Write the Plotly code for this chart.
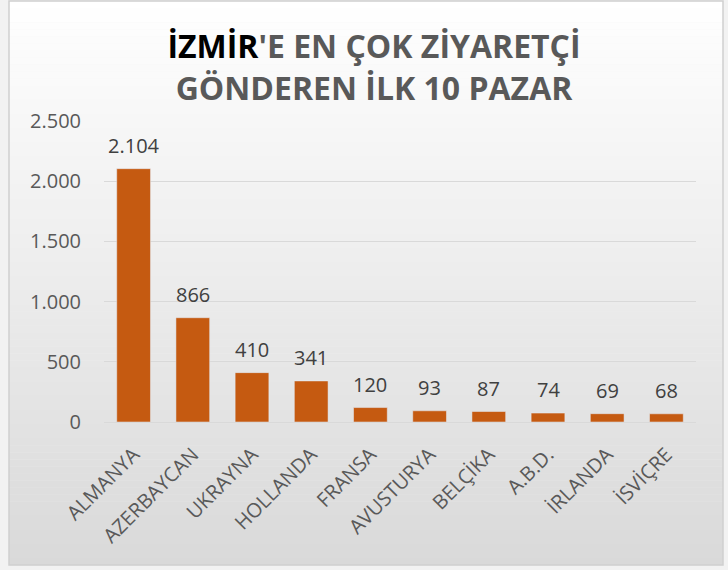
import plotly.graph_objects as go

countries = ["ALMANYA", "AZERBAYCAN", "UKRAYNA", "HOLLANDA", "FRANSA",
             "AVUSTURYA", "BELÇİKA", "A.B.D.", "İRLANDA", "İSVİÇRE"]
visitors = [2104, 866, 410, 341, 120, 93, 87, 74, 69, 68]
y_ticks = [0, 500, 1000, 1500, 2000, 2500]

W, H = 728, 570
L, R, T, B = 104, 32, 121, 148
pw, ph = W - L - R, H - T - B

def px(x):
    return (x - L) / pw

def py(y):
    return (H - B - y) / ph

fig = go.Figure(go.Bar(
    x=countries, y=visitors,
    marker_color="#C55A11",
    hoverinfo="x+y",
))

# value labels above bars, built from the data
annotations = []
for c, v in zip(countries, visitors):
    annotations.append(dict(
        x=c, y=v, xref="x", yref="y",
        text=f"{v:,}".replace(",", "."),
        showarrow=False, yanchor="bottom", yshift=8,
        font=dict(size=20, color="#404040", family="Open Sans"),
    ))

shapes = []
# gradient background inside frame
x0, x1, y0, y1 = 9, 723, 1, 565
n = 80
for i in range(n):
    ta = y0 + (y1 - y0) * i / n
    tb = y0 + (y1 - y0) * (i + 1) / n
    f = (i + 0.5) / n
    v = int(round(255 - (255 - 217) * f))
    c = f"rgb({v},{v},{v})"
    shapes.append(dict(type="rect", xref="paper", yref="paper",
                       x0=px(x0), x1=px(x1), y0=py(tb) - 0.001, y1=py(ta),
                       fillcolor=c, line=dict(width=0), layer="below"))
shapes.append(dict(type="rect", xref="paper", yref="paper",
                   x0=px(x0), x1=px(x1), y0=py(y1), y1=py(y0),
                   line=dict(color="#d0d0d0", width=1.5), layer="below"))

fig.update_layout(
    width=W, height=H,
    margin=dict(l=L, r=R, t=T, b=B, autoexpand=False),
    paper_bgcolor="#f2f2f2",
    plot_bgcolor="rgba(0,0,0,0)",
    separators=",.",
    bargap=0.43,
    showlegend=False,
    shapes=shapes,
    annotations=annotations,
    font=dict(family="Open Sans", color="#595959"),
    title=dict(
        text="<span style='color:#000000'>İZMİR</span>'E EN ÇOK ZİYARETÇİ<br>GÖNDEREN İLK 10 PAZAR",
        x=374 / W, xref="container", xanchor="center",
        y=1 - 58 / H, yref="container", yanchor="middle",
        font=dict(size=32, color="#595959", family="Open Sans", weight="bold"),
    ),
    xaxis=dict(
        tickangle=-45,
        tickfont=dict(size=20, color="#595959"),
        showline=True, linecolor="#d9d9d9", linewidth=1,
        ticks="", fixedrange=True, automargin=False,
        ticklabelstandoff=12,
    ),
    yaxis=dict(
        range=[0, 2500],
        tickvals=y_ticks,
        tickformat=",",
        tickfont=dict(size=20, color="#595959"),
        gridcolor="#d9d9d9", gridwidth=1,
        zeroline=False, showline=False,
        ticks="", ticklabelstandoff=22, automargin=False,
    ),
)

fig.write_html(
    "out.html",
    config={"displayModeBar": False},
    post_script="document.body.style.margin='0';document.body.style.overflow='hidden';",
)
